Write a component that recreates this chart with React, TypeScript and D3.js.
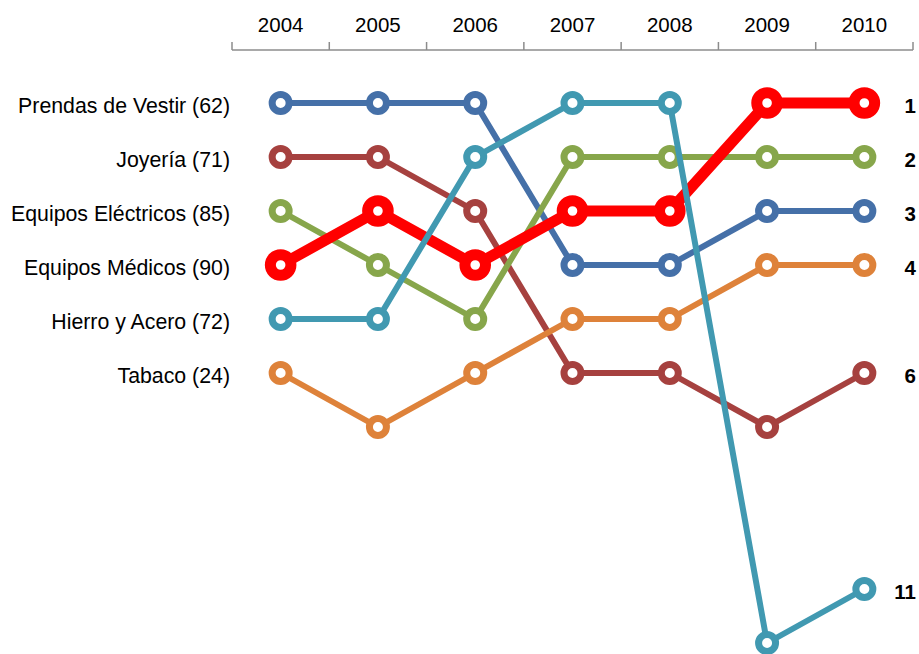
import React from "react";
import * as d3 from "d3";

// Ranking por año (1 = mejor posición)
const years = ["2004", "2005", "2006", "2007", "2008", "2009", "2010"];

const prendasRank = [1, 1, 1, 4, 4, 3, 3];
const joyeriaRank = [2, 2, 3, 6, 6, 7, 6];
const electricosRank = [3, 4, 5, 2, 2, 2, 2];
const tabacoRank = [6, 7, 6, 5, 5, 4, 4];
const medicosRank = [4, 3, 4, 3, 3, 1, 1];
const hierroRank = [5, 5, 2, 1, 1, 12, 11];

// Etiquetas a la izquierda, en el orden de 2004
const labelPrendas = "Prendas de Vestir (62)";
const labelJoyeria = "Joyería (71)";
const labelElectricos = "Equipos Eléctricos (85)";
const labelMedicos = "Equipos Médicos (90)";
const labelHierro = "Hierro y Acero (72)";
const labelTabaco = "Tabaco (24)";

type Serie = {
  name: string;
  values: number[];
  color: string;
  highlight: boolean;
};

// Orden de dibujo: las últimas quedan encima
const series: Serie[] = [
  { name: labelPrendas, values: prendasRank, color: "#4570a8", highlight: false },
  { name: labelJoyeria, values: joyeriaRank, color: "#a6413f", highlight: false },
  { name: labelElectricos, values: electricosRank, color: "#87a64b", highlight: false },
  { name: labelTabaco, values: tabacoRank, color: "#de823a", highlight: false },
  { name: labelMedicos, values: medicosRank, color: "#ff0000", highlight: true },
  { name: labelHierro, values: hierroRank, color: "#4199b1", highlight: false },
];

const W = 919;
const H = 654;
const FONT = "'Liberation Sans', Arial, sans-serif";

export default function App() {
  const x = d3.scaleBand<string>().domain(years).range([232, 913]).paddingInner(0).paddingOuter(0);
  const cx = (yr: string) => (x(yr) as number) + x.bandwidth() / 2;

  // Puestos 1–7 con paso uniforme; los puestos bajos se comprimen
  const y = d3.scaleLinear().domain([1, 7, 11, 12]).range([103, 427, 589, 643]);

  const line = d3
    .line<number>()
    .x((_, i) => cx(years[i]))
    .y((v) => y(v));

  const axisY = 50;
  const tickXs = [...years.map((yr) => x(yr) as number), x.range()[1]];

  return (
    <svg
      width={W}
      height={H}
      viewBox={`0 0 ${W} ${H}`}
      style={{ position: "absolute", left: 0, top: 0, background: "#ffffff" }}
      fontFamily={FONT}
    >
      {/* Eje superior de años */}
      <g>
        <line x1={x.range()[0]} x2={x.range()[1]} y1={axisY} y2={axisY} stroke="#8c8c8c" strokeWidth={1.5} />
        {tickXs.map((tx, i) => (
          <line key={i} x1={tx} x2={tx} y1={axisY} y2={axisY - 8} stroke="#8c8c8c" strokeWidth={1.5} />
        ))}
        {years.map((yr) => (
          <text key={yr} x={cx(yr)} y={32} textAnchor="middle" fontSize={20.5} fill="#000">
            {yr}
          </text>
        ))}
      </g>

      {/* Nombres de sector según su puesto en 2004 */}
      {series.map((s) => (
        <text key={s.name} x={230} y={y(s.values[0]) + 9.5} textAnchor="end" fontSize={21.3} fill="#000">
          {s.name}
        </text>
      ))}

      {/* Líneas y marcadores */}
      {series.map((s) => (
        <g key={s.name}>
          <path
            d={line(s.values) || ""}
            fill="none"
            stroke={s.color}
            strokeWidth={s.highlight ? 11 : 6}
            strokeLinejoin="round"
          />
          {s.values.map((v, i) => (
            <circle
              key={i}
              cx={cx(years[i])}
              cy={y(v)}
              r={s.highlight ? 10.3 : 8.5}
              fill="#ffffff"
              stroke={s.color}
              strokeWidth={s.highlight ? 11 : 7}
            />
          ))}
        </g>
      ))}

      {/* Puesto final en 2010 */}
      {series.map((s) => {
        const last = s.values[s.values.length - 1];
        return (
          <text
            key={s.name}
            x={916}
            y={y(last) + 9.5}
            textAnchor="end"
            fontSize={20.5}
            fontWeight="bold"
            fill="#000"
          >
            {String(last)}
          </text>
        );
      })}
    </svg>
  );
}
